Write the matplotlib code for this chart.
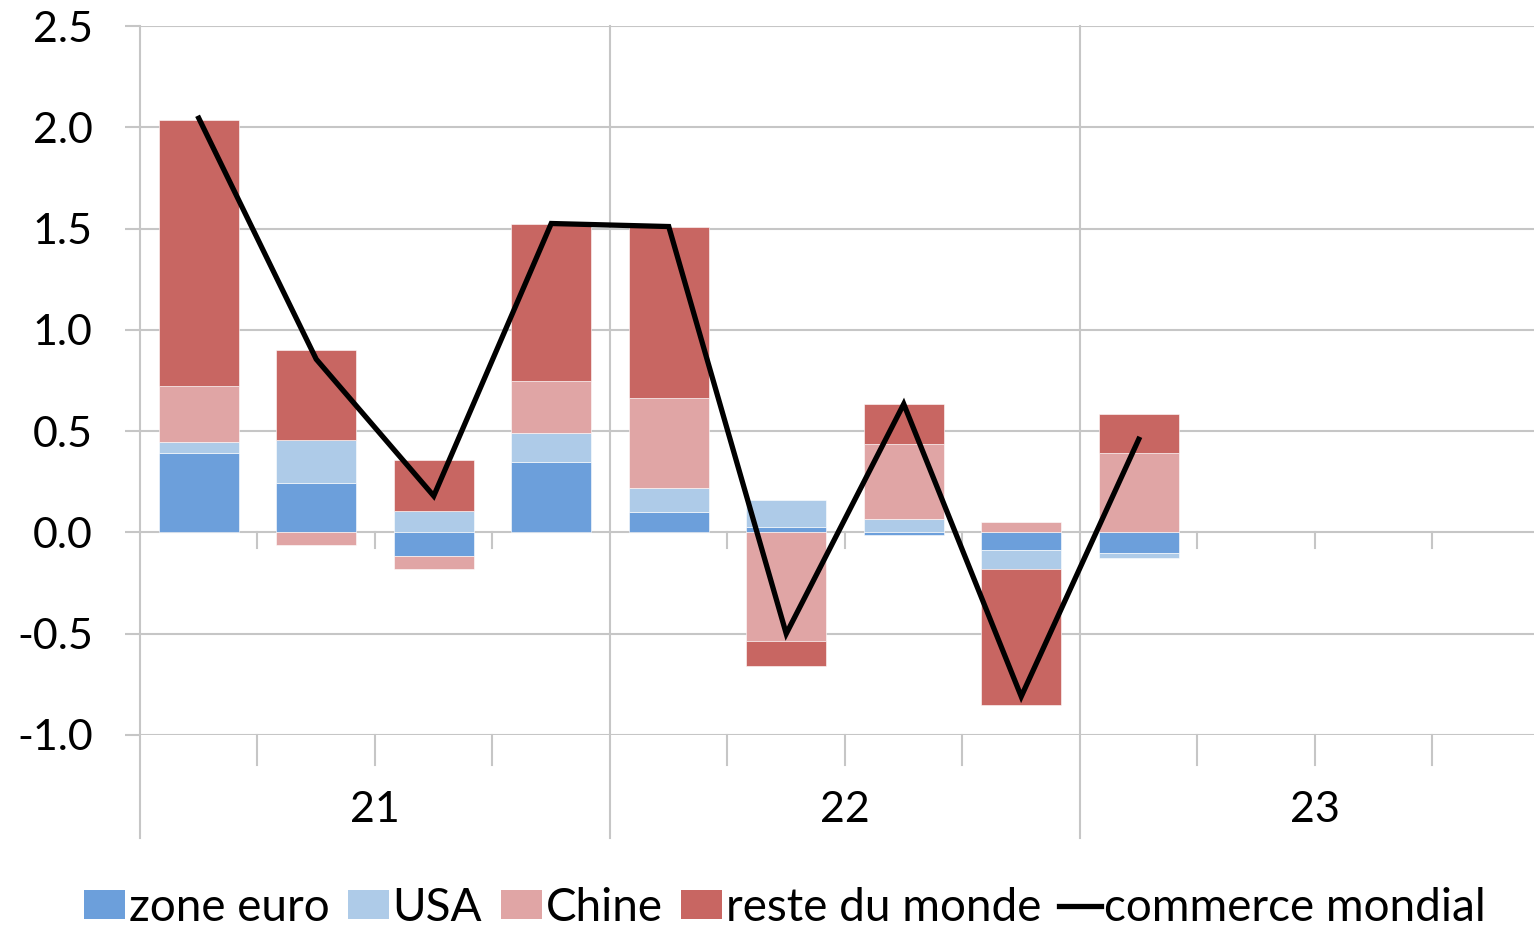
import numpy as np
import matplotlib
matplotlib.use("Agg")
import matplotlib.pyplot as plt
from matplotlib.lines import Line2D
from matplotlib.patches import Patch

plt.rcParams['font.family'] = ['Lato', 'DejaVu Sans']

# quarterly contributions (21Q1 .. 23Q1), 12 quarter slots on the axis
n_slots = 12
years = ["21", "22", "23"]
zone_euro = [0.39, 0.245, -0.115, 0.35, 0.10, 0.027, -0.012, -0.087, -0.10]
usa = [0.055, 0.21, 0.105, 0.14, 0.12, 0.133, 0.066, -0.093, -0.025]
chine = [0.28, -0.06, -0.065, 0.257, 0.445, -0.535, 0.37, 0.05, 0.39]
reste = [1.31, 0.445, 0.252, 0.775, 0.844, -0.125, 0.197, -0.67, 0.195]
commerce = [2.045, 0.855, 0.18, 1.525, 1.51, -0.50, 0.634, -0.81, 0.46]

series = [("zone euro", zone_euro, "#6C9FDB"),
          ("USA", usa, "#AECBE8"),
          ("Chine", chine, "#E0A5A5"),
          ("reste du monde", reste, "#C86662")]

grid_c = "#C6C6C6"
fs = 31
fig = plt.figure(figsize=(15.34, 9.27), dpi=100)
ax = fig.add_axes([140/1534, 1-735/927, 1-140/1534, 709/927])

x = np.arange(len(commerce))
pos = np.zeros(len(x))
neg = np.zeros(len(x))
for name, vals, col in series:
    v = np.array(vals)
    bottom = np.where(v >= 0, pos, neg)
    ax.bar(x, v, bottom=bottom, width=0.68, color=col, edgecolor="white",
           linewidth=0.4, zorder=2)
    pos = pos + np.where(v >= 0, v, 0)
    neg = neg + np.where(v < 0, v, 0)

ax.plot(x, commerce, color="black", lw=3.8, zorder=3, solid_joinstyle="miter")

ax.set_ylim(-1.0, 2.5)
ax.set_xlim(-0.5, 11.364)
ax.set_yticks(np.arange(-1.0, 2.51, 0.5))
ax.set_yticklabels([f"{t:.1f}" for t in np.arange(-1.0, 2.51, 0.5)])
ax.yaxis.grid(True, color=grid_c, lw=1.5, zorder=0)
ax.tick_params(axis="y", length=11, width=1.5, color=grid_c, pad=23,
               labelsize=fs)
ax.set_xticks([])
for s in ax.spines.values():
    s.set_visible(False)

trans = ax.get_xaxis_transform()
bottom_y = -103/709
# left axis and year separators
for xb in [-0.5, 3.5, 7.5]:
    ax.add_line(Line2D([xb, xb], [bottom_y, 1], transform=trans, color=grid_c,
                       lw=1.5, clip_on=False, zorder=1))
# quarter ticks at zero line and at bottom
for i in range(1, n_slots):
    xb = i - 0.5
    if i % 4 == 0:
        continue
    ax.plot([xb, xb], [0, -0.075], color=grid_c, lw=1.5, zorder=1)
    ax.add_line(Line2D([xb, xb], [0, -30/709], transform=trans, color=grid_c,
                       lw=1.5, clip_on=False, zorder=1))

for k, yr in enumerate(years):
    ax.text(4*k + 1.5, -75/709, yr, transform=trans, ha="center",
            va="center", fontsize=fs)

handles = [Patch(facecolor=c, label=n) for n, _, c in series]
handles.append(Line2D([], [], color="black", lw=3.8, label="commerce mondial"))
fig.legend(handles=handles, loc="center", bbox_to_anchor=(785/1534, 1-908/927),
           ncol=5, frameon=False, fontsize=33, handlelength=0.9,
           handleheight=0.6, handletextpad=0.08, columnspacing=0.4,
           borderaxespad=0)

fig.savefig("out.png", dpi=100)
